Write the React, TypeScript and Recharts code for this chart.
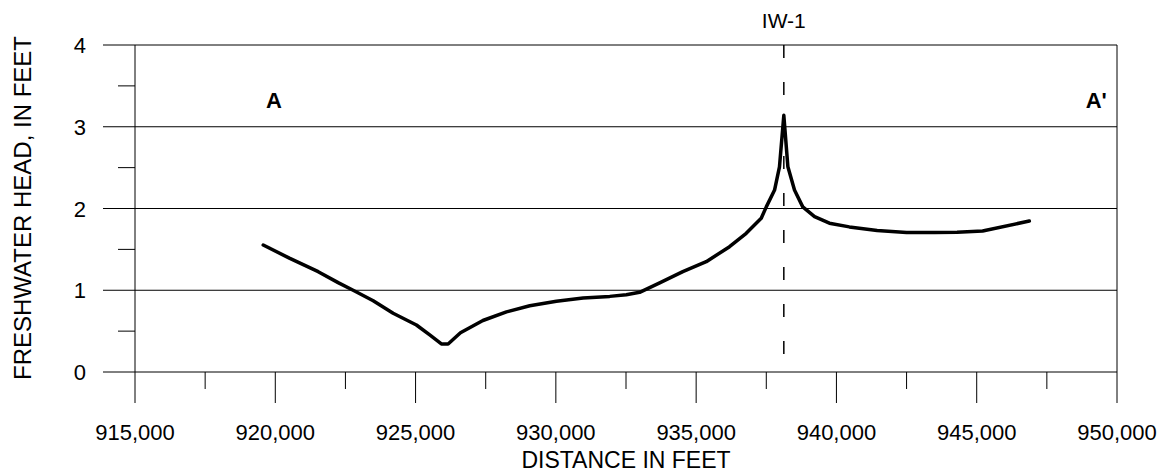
import {
  Line,
  LineChart,
  ReferenceDot,
  ReferenceLine,
  XAxis,
  YAxis,
} from "recharts";

// distance along section A-A' (feet) and freshwater head (feet)
const distance = [
  919570, 920520, 921530, 922240, 922775, 923490, 924200, 925030, 925505,
  925920, 926160, 926600, 927400, 928240, 929070, 930020, 930970, 931920,
  932510, 932985, 933700, 934525, 935360, 936190, 936785, 937320, 937500,
  937795, 937970, 938125, 938270, 938505, 938800, 939220, 939750, 940460,
  941450, 942500, 943500, 944300, 945210, 946875,
];
const head = [
  1.553, 1.39, 1.227, 1.093, 1.0, 0.872, 0.718, 0.575, 0.453, 0.343, 0.343,
  0.48, 0.63, 0.735, 0.81, 0.865, 0.905, 0.925, 0.945, 0.975, 1.09, 1.227,
  1.349, 1.533, 1.697, 1.88, 2.02, 2.226, 2.51, 3.14, 2.51, 2.226, 2.02, 1.9,
  1.82, 1.775, 1.73, 1.705, 1.705, 1.71, 1.725, 1.847,
];

const xTicks = [
  915000, 917500, 920000, 922500, 925000, 927500, 930000, 932500, 935000,
  937500, 940000, 942500, 945000, 947500, 950000,
];
const yTicks = [0, 0.5, 1, 1.5, 2, 2.5, 3, 3.5, 4];
const gridValues = [1, 2, 3, 4];

const wellName = "IW-1";
const wellDistance = 938125;
const sectionLabels = [
  { name: "A", distance: 919950, head: 3.33 },
  { name: "A'", distance: 949260, head: 3.33 },
];

const data = distance.map((d, i) => ({ distance: d, head: head[i] }));

const font = "'Liberation Sans', Arial, sans-serif";

const XTick = (props: any) => {
  const { x, y, payload } = props;
  const major = payload.value % 5000 === 0;
  return (
    <g>
      <line x1={x} y1={y} x2={x} y2={y + (major ? 31 : 17)} stroke="#000" />
      {major && (
        <text x={x} y={y + 68} textAnchor="middle" fontSize={22} fill="#000" fontFamily={font}>
          {payload.value.toLocaleString("en-US")}
        </text>
      )}
    </g>
  );
};

const YTick = (props: any) => {
  const { x, y, payload } = props;
  const major = Number.isInteger(payload.value);
  return (
    <g>
      <line x1={x - (major ? 32 : 17)} y1={y} x2={x} y2={y} stroke="#000" />
      {major && (
        <text x={x - 49} y={y + 8} textAnchor="end" fontSize={22} fill="#000" fontFamily={font}>
          {payload.value}
        </text>
      )}
    </g>
  );
};

const App = () => {
  return (
    <div style={{ position: "absolute", left: 0, top: 0, background: "#fff" }}>
      <LineChart
        width={1162}
        height={472}
        data={data}
        margin={{ top: 45, right: 45, bottom: 0, left: 0 }}
        style={{ fontFamily: font }}
      >
        <XAxis
          dataKey="distance"
          type="number"
          domain={[915000, 950000]}
          ticks={xTicks}
          interval={0}
          height={100}
          tickSize={0}
          tickMargin={0}
          tickLine={false}
          axisLine={{ stroke: "#000" }}
          tick={<XTick />}
          label={() => (
            <text x={626} y={468} textAnchor="middle" fontSize={23} fill="#000" fontFamily={font}>
              DISTANCE IN FEET
            </text>
          )}
        />
        <YAxis
          type="number"
          domain={[0, 4]}
          ticks={yTicks}
          interval={0}
          width={135}
          tickSize={0}
          tickMargin={0}
          tickLine={false}
          axisLine={{ stroke: "#000" }}
          tick={<YTick />}
          label={() => (
            <text
              x={22}
              y={208}
              transform="rotate(-90, 22, 208)"
              textAnchor="middle"
              dominantBaseline="central"
              fontSize={24}
              fill="#000"
              fontFamily={font}
            >
              FRESHWATER HEAD, IN FEET
            </text>
          )}
        />
        {gridValues.map((v) => (
          <ReferenceLine key={v} y={v} stroke="#000" strokeWidth={1} />
        ))}
        <ReferenceLine x={950000} stroke="#000" strokeWidth={1} />
        <ReferenceLine
          segment={[
            { x: wellDistance, y: 4 },
            { x: wellDistance, y: 0 },
          ]}
          stroke="#000"
          strokeWidth={1.5}
          strokeDasharray="13 24"
          label={{ value: wellName, position: "top", offset: 17, fill: "#000", fontSize: 21 }}
        />
        {sectionLabels.map((s) => (
          <ReferenceDot
            key={s.name}
            x={s.distance}
            y={s.head}
            r={1}
            fill="none"
            stroke="none"
            label={{ value: s.name, position: "center", fill: "#000", fontSize: 22, fontWeight: "bold" }}
          />
        ))}
        <Line
          dataKey="head"
          type="linear"
          stroke="#000"
          strokeWidth={3.5}
          strokeLinejoin="round"
          strokeLinecap="round"
          dot={false}
          activeDot={false}
          isAnimationActive={false}
        />
      </LineChart>
    </div>
  );
};

export default App;
